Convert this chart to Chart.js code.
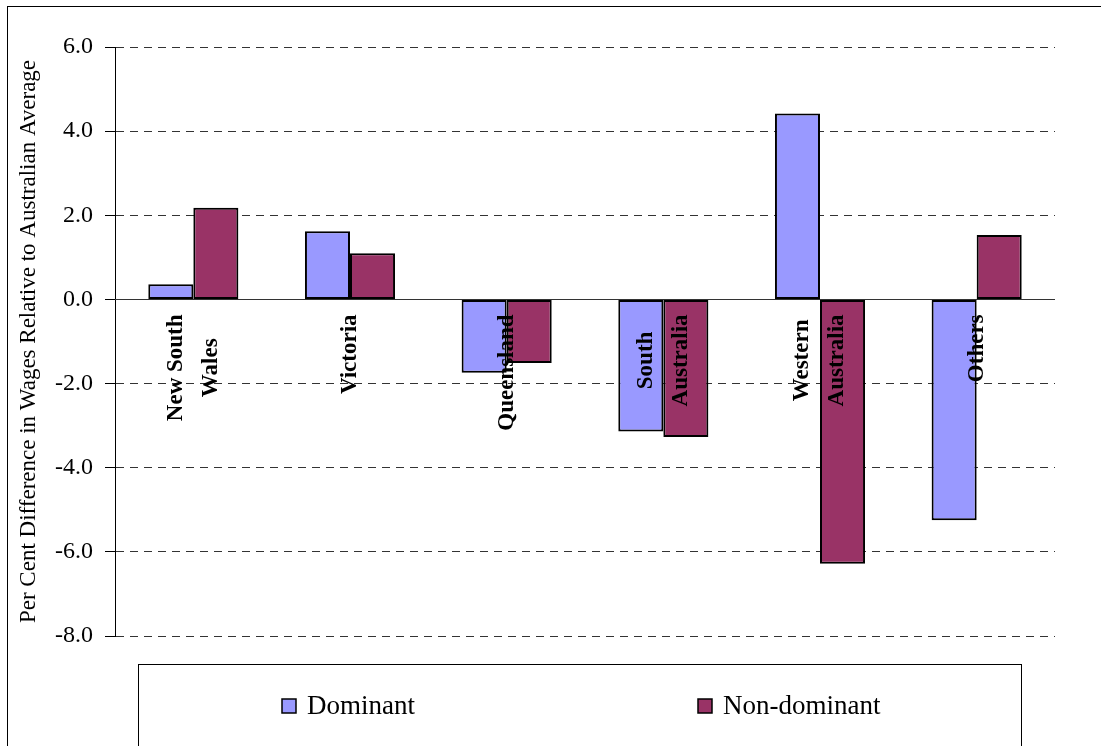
<!DOCTYPE html>
<html lang="en">
<head>
<meta charset="UTF-8" />
<title>Wages Relative to Australian Average</title>
<script src="https://cdn.jsdelivr.net/npm/chart.js"></script>
<style>
body {
    margin: 0;
    background: #fff;
}
.chart-box {
    width: 1101px;
    height: 746px;
}
</style>
</head>
<body>
<div class="chart-box">
    <canvas id="wageChart" width="1101" height="746"></canvas>
</div>

<script>
// data
const categories = [['New South', 'Wales'], ['Victoria'], ['Queensland'], ['South', 'Australia'], ['Western', 'Australia'], ['Others']];
const dominant = [0.36, 1.62, -1.74, -3.14, 4.42, -5.25];
const nonDominant = [2.18, 1.10, -1.51, -3.27, -6.28, 1.53];
const yMin = -8;
const yMax = 6;
const yStep = 2;

const serif = "'Liberation Serif', 'Times New Roman', serif";
const colDominant = '#9999ff';
const colNonDominant = '#993366';

// frame, legend box, zero line and the category labels
const decorPlugin = {
    id: 'decor',
    beforeDraw(chart) {
        const ctx = chart.ctx;
        ctx.save();
        ctx.fillStyle = '#fff';
        ctx.fillRect(0, 0, chart.width, chart.height);
        ctx.strokeStyle = '#000';
        ctx.lineWidth = 1;
        ctx.strokeRect(7.5, 6.5, chart.width + 20, chart.height + 20);
        ctx.restore();
    },
    beforeDatasetsDraw(chart) {
        const ctx = chart.ctx;
        const y0 = Math.round(chart.scales.y.getPixelForValue(0)) + 0.5;
        ctx.save();
        ctx.strokeStyle = '#333';
        ctx.lineWidth = 1;
        ctx.beginPath();
        ctx.moveTo(chart.chartArea.left, y0);
        ctx.lineTo(chart.chartArea.right, y0);
        ctx.stroke();
        ctx.restore();
    },
    afterDatasetsDraw(chart) {
        const ctx = chart.ctx;
        const xs = chart.scales.x;
        const top = chart.scales.y.getPixelForValue(0) + 15;
        ctx.save();
        ctx.font = 'bold 23px ' + serif;
        ctx.fillStyle = '#000';
        ctx.textAlign = 'center';
        ctx.textBaseline = 'middle';
        categories.forEach((lines, i) => {
            const cx = xs.getPixelForValue(i);
            const w = Math.max(...lines.map(l => ctx.measureText(l).width));
            lines.forEach((line, j) => {
                const lx = cx + (j - (lines.length - 1) / 2) * 35;
                ctx.save();
                ctx.translate(lx, top + w / 2);
                ctx.rotate(-Math.PI / 2);
                ctx.fillText(line, 0, 0);
                ctx.restore();
            });
        });
        ctx.restore();
    },
    afterDraw(chart) {
        const ctx = chart.ctx;
        ctx.save();
        ctx.strokeStyle = '#000';
        ctx.lineWidth = 1;
        ctx.strokeRect(138.5, 664.5, 883, 200);

        const items = [
            { label: chart.data.datasets[0].label, color: colDominant, x: 282 },
            { label: chart.data.datasets[1].label, color: colNonDominant, x: 698 }
        ];
        ctx.font = '27px ' + serif;
        ctx.textBaseline = 'middle';
        ctx.textAlign = 'left';
        items.forEach(it => {
            ctx.fillStyle = it.color;
            ctx.fillRect(it.x, 699, 14, 14);
            ctx.lineWidth = 1.5;
            ctx.strokeRect(it.x, 699, 14, 14);
            ctx.fillStyle = '#000';
            ctx.fillText(it.label, it.x + 25, 707);
        });
        ctx.restore();
    }
};

const ctx = document.getElementById('wageChart');
new Chart(ctx, {
    type: 'bar',
    data: {
        labels: categories.map(l => l.join(' ')),
        datasets: [
            { label: 'Dominant', data: dominant, backgroundColor: colDominant, borderColor: '#000', borderWidth: 2, borderSkipped: false },
            { label: 'Non-dominant', data: nonDominant, backgroundColor: colNonDominant, borderColor: '#000', borderWidth: 2, borderSkipped: false }
        ]
    },
    options: {
        responsive: false,
        animation: false,
        layout: { padding: { top: 47, bottom: 110, left: 0, right: 46 } },
        datasets: {
            bar: { categoryPercentage: 0.575, barPercentage: 1.0 }
        },
        plugins: {
            legend: { display: false },
            tooltip: { enabled: false }
        },
        scales: {
            x: { display: false },
            y: {
                min: yMin,
                max: yMax,
                afterFit(scale) { scale.width = 115; },
                ticks: {
                    stepSize: yStep,
                    padding: 12,
                    color: '#000',
                    font: { family: serif, size: 24 },
                    callback: v => v.toFixed(1)
                },
                grid: {
                    color: c => (c.tick && c.tick.value === 0) ? 'rgba(0,0,0,0)' : '#333',
                    tickColor: '#000',
                    tickLength: 10,
                    tickBorderDash: []
                },
                border: { display: true, color: '#000', width: 1, dash: [8, 6] },
                title: {
                    display: true,
                    text: 'Per Cent Difference in Wages Relative to Australian Average',
                    color: '#000',
                    font: { family: serif, size: 23 },
                    padding: { top: 15, bottom: 0 }
                }
            }
        }
    },
    plugins: [decorPlugin]
});
</script>
</body>
</html>
